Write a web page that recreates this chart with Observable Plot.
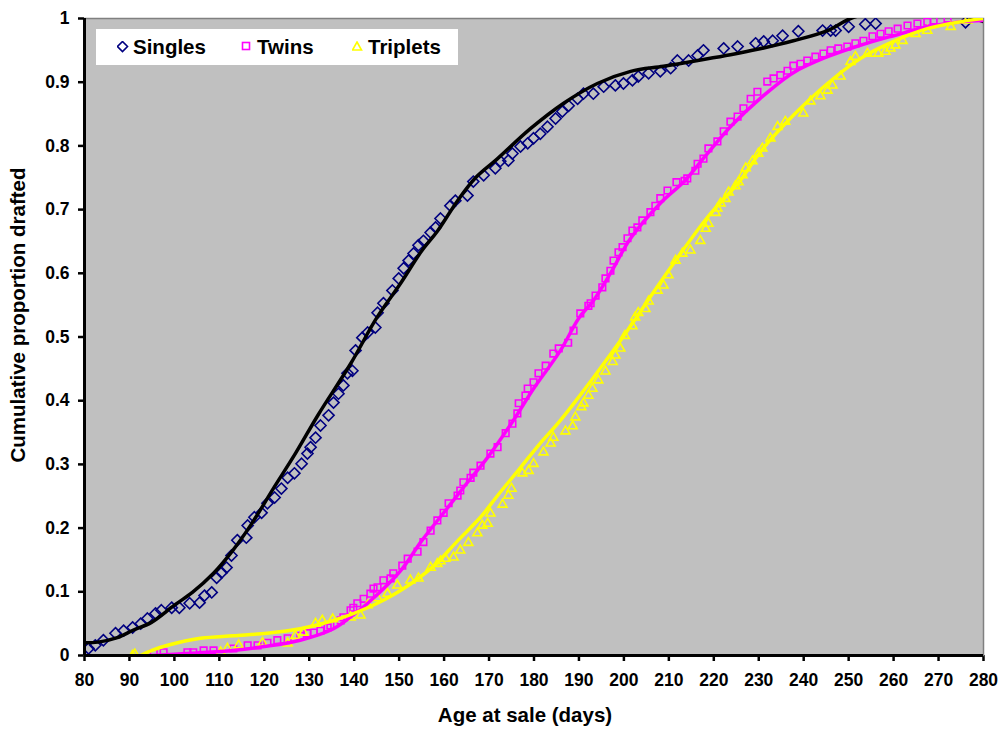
<!DOCTYPE html>
<html>
<head>
<meta charset="utf-8">
<script src="https://cdn.jsdelivr.net/npm/d3@7"></script>
<script src="https://cdn.jsdelivr.net/npm/@observablehq/plot@0.6"></script>
<style>
  html, body { margin: 0; padding: 0; background: #fff; }
  #wrap { position: relative; width: 1002px; height: 733px; font-family: "Liberation Sans", Arial, sans-serif; font-weight: bold; }
  #wrap svg { font-family: "Liberation Sans", Arial, sans-serif; font-weight: bold; }
  #wrap svg [aria-label="x-axis tick"] path, #wrap svg [aria-label="y-axis tick"] path { stroke-width: 2.5px; }
  #wrap svg [aria-label="x-axis"] .tick line, #wrap svg [aria-label="y-axis"] .tick line { stroke-width: 2.5px; }
  .legend { position: absolute; left: 96px; top: 29px; width: 362px; height: 36px; background: #fff; }
  .legend .item { position: absolute; top: 0; height: 36px; line-height: 36px; font-size: 20.5px; color: #000; white-space: nowrap; }
  .legend svg { position: absolute; }
  .xtitle { position: absolute; left: 0; width: 1002px; text-align: center; top: 703px; font-size: 20.5px; padding-left: 48px; box-sizing: border-box; }
  .ytitle { position: absolute; left: 18px; top: 315px; font-size: 20.5px; transform: translate(-50%, -50%) rotate(-90deg); white-space: nowrap; }
</style>
</head>
<body>
<div id="wrap"></div>
<script>
// ---- Data ----
const xTicks = [80, 90, 100, 110, 120, 130, 140, 150, 160, 170, 180, 190, 200, 210, 220, 230, 240, 250, 260, 270, 280];
const yTicks = [0, 0.1, 0.2, 0.3, 0.4, 0.5, 0.6, 0.7, 0.8, 0.9, 1];
const seriesNames = ["Singles", "Twins", "Triplets"];

const singlesAge = [80.9, 82.4, 84.2, 86.9, 88.7, 90.7, 92.5, 94.0, 95.8, 97.1, 99.4, 101.1, 103.4, 105.6, 106.7, 108.3, 109.4, 110.5, 111.6, 112.7, 114.0, 116.0, 116.3, 117.8, 119.4, 120.7, 122.3, 123.8, 125.2, 126.7, 128.3, 129.6, 130.3, 131.4, 132.5, 134.3, 135.4, 136.5, 137.6, 138.5, 139.6, 140.3, 141.8, 143.0, 144.7, 145.2, 146.5, 148.5, 149.9, 151.0, 152.1, 153.2, 154.3, 155.4, 157.0, 158.1, 159.2, 161.4, 162.5, 165.2, 166.5, 168.8, 171.4, 172.5, 174.3, 175.2, 177.0, 178.6, 179.9, 181.4, 183.0, 184.8, 186.3, 187.7, 189.7, 191.0, 193.2, 195.5, 198.1, 199.9, 201.9, 203.2, 205.5, 208.1, 210.4, 211.9, 214.4, 216.4, 217.7, 222.2, 225.3, 229.3, 231.1, 233.1, 235.3, 238.8, 244.2, 246.0, 247.1, 250.0, 253.7, 256.0, 276.0];
const singlesProp = [0.011, 0.016, 0.024, 0.035, 0.039, 0.044, 0.050, 0.058, 0.066, 0.071, 0.075, 0.075, 0.082, 0.083, 0.094, 0.099, 0.122, 0.130, 0.138, 0.157, 0.181, 0.185, 0.204, 0.217, 0.224, 0.239, 0.248, 0.262, 0.279, 0.286, 0.301, 0.317, 0.327, 0.342, 0.361, 0.377, 0.397, 0.411, 0.424, 0.443, 0.447, 0.479, 0.499, 0.507, 0.515, 0.538, 0.553, 0.573, 0.592, 0.608, 0.620, 0.631, 0.644, 0.651, 0.664, 0.672, 0.686, 0.706, 0.714, 0.722, 0.744, 0.754, 0.765, 0.776, 0.777, 0.788, 0.799, 0.804, 0.812, 0.819, 0.830, 0.843, 0.854, 0.863, 0.874, 0.882, 0.882, 0.893, 0.895, 0.898, 0.903, 0.909, 0.914, 0.917, 0.922, 0.934, 0.934, 0.942, 0.950, 0.953, 0.956, 0.961, 0.964, 0.965, 0.973, 0.980, 0.981, 0.981, 0.981, 0.987, 0.991, 0.992, 0.994];

const twinsAge = [95.4, 97.6, 102.9, 104.2, 106.5, 108.7, 113.1, 116.3, 118.5, 120.7, 122.9, 125.2, 128.0, 129.6, 131.0, 132.5, 134.1, 134.7, 137.0, 137.6, 139.2, 139.8, 140.7, 142.1, 143.6, 144.3, 145.2, 146.5, 148.1, 148.7, 150.7, 151.9, 154.1, 155.4, 157.0, 158.5, 159.9, 161.0, 163.0, 163.6, 164.3, 165.9, 166.5, 168.1, 170.3, 171.9, 173.7, 175.2, 176.3, 176.6, 178.1, 178.6, 179.9, 181.0, 182.6, 184.3, 185.5, 187.6, 188.8, 190.3, 192.1, 192.6, 193.7, 195.2, 195.9, 197.0, 197.7, 198.8, 199.7, 200.8, 201.9, 203.0, 204.1, 205.9, 207.0, 208.1, 209.7, 211.7, 213.5, 214.1, 215.9, 216.4, 217.7, 218.8, 220.8, 222.2, 223.7, 225.3, 226.6, 228.2, 229.7, 231.9, 233.3, 234.8, 236.4, 237.7, 239.3, 240.8, 242.6, 244.4, 246.0, 247.7, 249.7, 251.5, 253.3, 255.3, 257.1, 258.9, 260.9, 263.1, 265.3, 267.5, 268.9, 272.0];
const twinsProp = [0.003, 0.005, 0.005, 0.005, 0.008, 0.008, 0.011, 0.016, 0.016, 0.020, 0.024, 0.027, 0.031, 0.035, 0.036, 0.039, 0.044, 0.047, 0.055, 0.060, 0.071, 0.075, 0.082, 0.089, 0.097, 0.105, 0.107, 0.118, 0.121, 0.129, 0.141, 0.152, 0.163, 0.178, 0.196, 0.212, 0.224, 0.239, 0.251, 0.259, 0.272, 0.279, 0.287, 0.298, 0.317, 0.327, 0.349, 0.364, 0.380, 0.396, 0.408, 0.419, 0.429, 0.443, 0.455, 0.474, 0.482, 0.491, 0.510, 0.537, 0.549, 0.553, 0.565, 0.578, 0.592, 0.604, 0.620, 0.633, 0.641, 0.655, 0.667, 0.672, 0.683, 0.696, 0.706, 0.718, 0.730, 0.743, 0.745, 0.749, 0.761, 0.772, 0.780, 0.796, 0.807, 0.823, 0.838, 0.846, 0.859, 0.874, 0.885, 0.901, 0.906, 0.911, 0.918, 0.926, 0.929, 0.934, 0.940, 0.945, 0.950, 0.953, 0.956, 0.961, 0.965, 0.972, 0.976, 0.980, 0.984, 0.989, 0.992, 0.995, 0.997, 1.0];

const tripletsAge = [90.7, 91.2, 110.3, 111.8, 114.3, 119.6, 125.2, 126.9, 128.7, 131.4, 132.9, 135.2, 139.2, 141.4, 143.0, 145.2, 147.4, 149.6, 152.5, 154.3, 157.0, 158.5, 159.2, 160.3, 162.1, 163.6, 165.4, 167.4, 168.5, 169.7, 170.3, 173.0, 174.3, 175.0, 177.4, 178.8, 179.9, 182.1, 183.7, 184.3, 187.0, 188.6, 189.2, 190.5, 191.0, 192.1, 193.0, 194.3, 195.9, 197.5, 198.1, 199.2, 200.2, 201.9, 202.5, 203.2, 204.8, 205.5, 207.5, 208.8, 209.9, 211.5, 213.0, 214.8, 217.0, 218.2, 218.8, 220.4, 220.8, 221.5, 222.6, 223.3, 224.8, 225.5, 226.4, 227.1, 228.6, 229.9, 230.8, 232.6, 234.2, 235.9, 239.9, 241.5, 243.7, 245.3, 246.4, 248.2, 250.4, 251.5, 254.2, 256.6, 258.2, 259.3, 260.4, 262.0, 264.9, 267.5, 272.7, 276.4];
const tripletsProp = [0.0, 0.002, 0.005, 0.011, 0.016, 0.020, 0.019, 0.031, 0.036, 0.050, 0.055, 0.057, 0.060, 0.063, 0.079, 0.090, 0.097, 0.110, 0.118, 0.121, 0.138, 0.144, 0.148, 0.152, 0.154, 0.165, 0.177, 0.192, 0.204, 0.207, 0.223, 0.237, 0.251, 0.262, 0.286, 0.290, 0.301, 0.319, 0.333, 0.342, 0.352, 0.360, 0.374, 0.390, 0.396, 0.408, 0.419, 0.432, 0.446, 0.461, 0.471, 0.482, 0.502, 0.517, 0.531, 0.538, 0.544, 0.556, 0.573, 0.581, 0.597, 0.620, 0.631, 0.636, 0.651, 0.670, 0.678, 0.695, 0.702, 0.710, 0.717, 0.727, 0.737, 0.743, 0.754, 0.765, 0.776, 0.788, 0.796, 0.812, 0.830, 0.838, 0.851, 0.870, 0.878, 0.887, 0.895, 0.909, 0.932, 0.940, 0.945, 0.945, 0.948, 0.953, 0.958, 0.965, 0.976, 0.981, 0.987, 0.997];

// Fitted (trend) curves
const singlesFitAge = [80, 83, 87.3, 90.9, 94.9, 100, 104, 108.7, 113, 117.2, 122, 127, 132, 139.2, 145, 150.3, 155, 158.5, 163, 167, 171.9, 179.2, 186.6, 194.1, 201.5, 208.8, 216.4, 223.7, 230, 237.7, 245.3, 250.4, 256, 265, 274, 280];
const singlesFitProp = [0.020, 0.021, 0.028, 0.040, 0.052, 0.079, 0.099, 0.129, 0.165, 0.207, 0.262, 0.318, 0.378, 0.458, 0.530, 0.584, 0.635, 0.666, 0.714, 0.750, 0.780, 0.827, 0.867, 0.898, 0.917, 0.925, 0.934, 0.943, 0.952, 0.965, 0.981, 1.0, 1.01, 1.015, 1.008, 0.995];

const twinsFitAge = [95, 100, 105, 113, 120, 128, 135.4, 140, 143, 150.3, 155, 160.8, 165, 169.7, 175.4, 180, 185.9, 190, 193.2, 197, 201.5, 208.1, 213.5, 218, 223.7, 230.4, 237.7, 245.3, 252.6, 260, 267.5, 275, 280];
const twinsFitProp = [0.0, 0.002, 0.004, 0.008, 0.014, 0.024, 0.042, 0.065, 0.082, 0.133, 0.180, 0.232, 0.270, 0.311, 0.369, 0.420, 0.479, 0.530, 0.557, 0.600, 0.655, 0.710, 0.745, 0.783, 0.830, 0.875, 0.915, 0.940, 0.958, 0.973, 0.987, 0.995, 0.997];

const tripletsFitAge = [92.5, 95, 98.5, 105.8, 113.1, 120.7, 128, 135.4, 143, 150.3, 157.6, 163, 168.1, 172, 177, 181, 185.5, 189, 193.2, 199.2, 205.3, 211, 218.6, 225.9, 230.4, 237.7, 245.3, 252.6, 260, 267.5, 275, 280];
const tripletsFitProp = [0.0, 0.008, 0.016, 0.027, 0.031, 0.035, 0.042, 0.055, 0.075, 0.102, 0.140, 0.180, 0.217, 0.252, 0.295, 0.330, 0.366, 0.397, 0.436, 0.494, 0.557, 0.615, 0.688, 0.746, 0.791, 0.848, 0.898, 0.937, 0.964, 0.984, 0.995, 1.0];

// ---- Build tables ----
const toRows = (xs, ys) => xs.map((x, i) => ({x, y: ys[i]}));
const singles = toRows(singlesAge, singlesProp);
const twins = toRows(twinsAge, twinsProp);
const triplets = toRows(tripletsAge, tripletsProp);
const singlesFit = toRows(singlesFitAge, singlesFitProp);
const twinsFit = toRows(twinsFitAge, twinsFitProp);
const tripletsFit = toRows(tripletsFitAge, tripletsFitProp);

const colors = {Singles: "#000080", Twins: "#FF00FF", Triplets: "#FFFF00"};

const chart = Plot.plot({
  width: 1002,
  height: 733,
  marginLeft: 84,
  marginRight: 19,
  marginTop: 18,
  marginBottom: 78,
  style: {fontFamily: "Liberation Sans, Arial, sans-serif", fontSize: "17.5px", fontWeight: "bold", background: "#fff", color: "#000", overflow: "visible"},
  x: {domain: [80, 280], ticks: xTicks, tickFormat: d => String(d), tickSize: 6, tickPadding: 12, label: null},
  y: {domain: [0, 1], ticks: yTicks, tickFormat: d => (d === 0 ? "0" : d === 1 ? "1" : d3.format(".1f")(d)), tickSize: 6, tickPadding: 9, label: null},
  marks: [
    Plot.frame({fill: "#C0C0C0", stroke: "#808080", strokeWidth: 1.5}),
    Plot.dot(singles, {x: "x", y: "y", symbol: "diamond2", r: 5, stroke: colors.Singles, strokeWidth: 1.6, fill: "none", clip: true}),
    Plot.dot(twins, {x: "x", y: "y", symbol: "square2", r: 4.2, stroke: colors.Twins, strokeWidth: 1.6, fill: "none", clip: true}),
    Plot.dot(triplets, {x: "x", y: "y", symbol: "triangle2", r: 4.3, stroke: colors.Triplets, strokeWidth: 1.6, fill: "none", clip: true}),
    Plot.line(singlesFit, {x: "x", y: "y", stroke: "#000", strokeWidth: 3.5, curve: "catmull-rom", clip: true}),
    Plot.line(twinsFit, {x: "x", y: "y", stroke: colors.Twins, strokeWidth: 3.5, curve: "catmull-rom", clip: true}),
    Plot.line(tripletsFit, {x: "x", y: "y", stroke: colors.Triplets, strokeWidth: 3.5, curve: "catmull-rom", clip: true}),
    Plot.ruleX([80], {stroke: "#000", strokeWidth: 3}),
    Plot.ruleY([0], {stroke: "#000", strokeWidth: 3})
  ]
});

const wrap = document.getElementById("wrap");
wrap.appendChild(chart);

// Legend (inside plot area, top-left)
const legend = document.createElement("div");
legend.className = "legend";
const legendItems = [
  {name: seriesNames[0], left: 21, sym: `<polygon points="5.5,0.5 10.5,5.5 5.5,10.5 0.5,5.5" fill="none" stroke="${colors.Singles}" stroke-width="1.6"/>`},
  {name: seriesNames[1], left: 145, sym: `<rect x="1.5" y="1.5" width="7" height="7" fill="none" stroke="${colors.Twins}" stroke-width="1.6"/>`},
  {name: seriesNames[2], left: 256, sym: `<polygon points="5,1 9.5,9 0.5,9" fill="none" stroke="${colors.Triplets}" stroke-width="1.6"/>`}
];
for (const it of legendItems) {
  const s = document.createElementNS("http://www.w3.org/2000/svg", "svg");
  s.setAttribute("width", 12); s.setAttribute("height", 12);
  s.style.left = (it.left) + "px"; s.style.top = "12px";
  s.innerHTML = it.sym;
  legend.appendChild(s);
  const t = document.createElement("div");
  t.className = "item";
  t.style.left = (it.left + 16) + "px";
  t.textContent = it.name;
  legend.appendChild(t);
}
wrap.appendChild(legend);

const xt = document.createElement("div");
xt.className = "xtitle";
xt.textContent = "Age at sale (days)";
wrap.appendChild(xt);

const yt = document.createElement("div");
yt.className = "ytitle";
yt.textContent = "Cumulative proportion drafted";
wrap.appendChild(yt);
</script>
</body>
</html>
